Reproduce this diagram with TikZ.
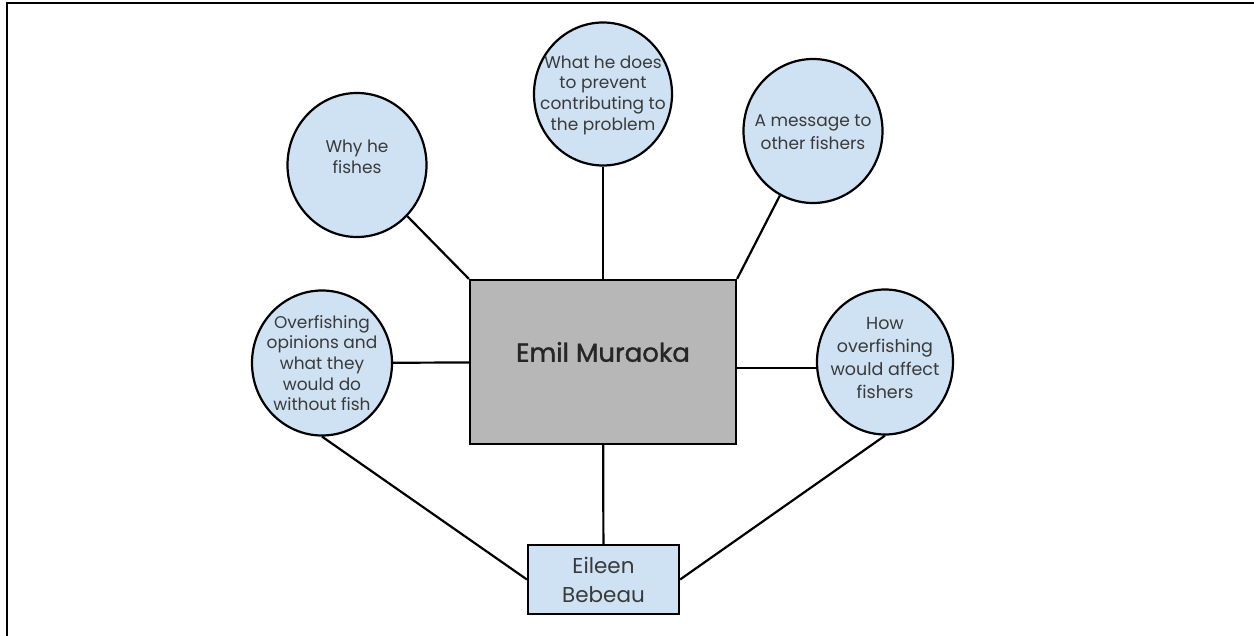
\documentclass[tikz,border=0pt]{standalone}
\usepackage{fontspec}
\setmainfont{Poppins}
\newfontfamily\namefont{Poppins}[FakeBold=1.2]
\usetikzlibrary{positioning, shapes.geometric}

\definecolor{bubbleblue}{HTML}{CFE2F3}
\definecolor{boxgray}{HTML}{B7B7B7}
\definecolor{inkgray}{HTML}{3A3A3A}

\begin{document}
\begin{tikzpicture}[x=1pt, y=-1pt]
		% Styles
		\tikzstyle{topic} = [ellipse, draw, line width=2.2pt, fill=bubbleblue, inner sep=0pt]
		\tikzstyle{topictext} = [text=inkgray, align=center, inner sep=0pt,
		font=\fontsize{17}{20.7}\selectfont]
		\tikzstyle{person} = [rectangle, draw, line width=2.2pt, fill=boxgray,
		minimum width=266pt, minimum height=164pt]
		\tikzstyle{author} = [rectangle, draw, line width=2.2pt, fill=bubbleblue,
		text=inkgray, align=center, minimum width=151pt, minimum height=69pt,
		font=\fontsize{21.5}{29}\selectfont]
		\tikzstyle{line} = [draw, line width=2.2pt]
		
		\useasboundingbox (0,0) rectangle (1254,636);
		% Frame
		\draw [line width=2pt] (7,640) -- (7,3.5) -- (1258,3.5);
		
		% Nodes
		\node [person, label={[text=black!85, yshift=10pt,
			font=\namefont\fontsize{26}{30}\selectfont]center:Emil Muraoka}] (muraoka) at (603,362) {};
		\node [topic, minimum width=139pt, minimum height=144pt,
			label={[topictext, yshift=8pt]center:Why he\\fishes}] (why) at (357,165) {};
		\node [topic, minimum width=138pt, minimum height=143pt,
			label={[topictext, yshift=-1pt]center:What he does\\to prevent\\contributing to\\the problem}] (prevent) at (603,94) {};
		\node [topic, minimum width=139pt, minimum height=144pt,
			label={[topictext, yshift=-1pt, font=\fontsize{17}{23}\selectfont]center:A message to\\other fishers}] (message) at (813,131) {};
		\node [topic, minimum width=140pt, minimum height=145pt,
			label={[topictext, yshift=0pt]center:Overfishing\\opinions and\\what they\\would do\\without fish}] (opinions) at (322,363) {};
		\node [topic, minimum width=136pt, minimum height=145pt,
			label={[topictext, yshift=4pt, font=\fontsize{17.5}{23}\selectfont]center:How\\overfishing\\would affect\\fishers}] (affect) at (885,362) {};
		\node [author] (bebeau) at (603.5,579.5) {Eileen\\Bebeau};
		
		% Connections
		\path [line] (why) -- (muraoka.north west);
		\path [line] (prevent) -- (muraoka);
		\path [line] (message) -- (muraoka.north east);
		\path [line] (opinions) -- (muraoka);
		\path [line] (muraoka.east |- affect.west) ++(0,6) -- (affect.west |- 0,368);
		\path [line] (muraoka) -- (bebeau);
		\path [line] (opinions.south) -- (bebeau.west);
		\path [line] (affect.south) -- (bebeau.east);
	\end{tikzpicture}
\end{document}
